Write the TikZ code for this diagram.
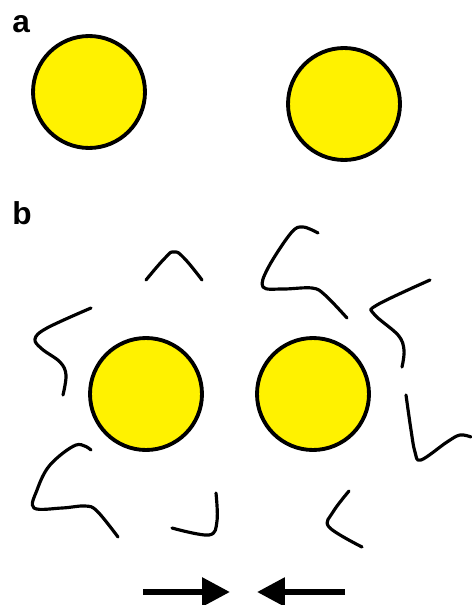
\documentclass[tikz,border=0pt]{standalone}
\usepackage{fontspec}
\setmainfont{Liberation Sans}
\usepackage{tikz}
\usetikzlibrary{arrows.meta, positioning}

\begin{document}
\begin{tikzpicture}[x=0.02cm, y=-0.02cm,
        particle/.style={circle, draw, fill=yellow, line width=2.2pt, minimum size=2.24cm, inner sep=0pt},
        chain/.style={line width=1.8pt, line cap=round, line join=round},
        push/.style={line width=3.4pt, -{Triangle[length=0.56cm, width=0.56cm]}},
        panel/.style={anchor=base west, inner sep=0pt, font=\fontsize{18}{20}\selectfont\bfseries}]
        \useasboundingbox (0,0) rectangle (471,605);

        % a: bare particles
        \node[panel] (la) at (12,32) {a};
        \node[particle] (a1) at (89,92) {};
        \node[particle] (a2) at (344,104) {};

        % b: particles among polymer chains
        \node[panel] (lb) at (12,224) {b};
        \node[particle] (b1) at (146,394) {};
        \node[particle] (b2) at (313,394) {};

        \draw[chain] plot[smooth, tension=0.8] coordinates {(146,280) (165,258) (174,252) (184,258) (202,280)};
        \draw[chain] plot[smooth, tension=0.6] coordinates {(318,233) (303,227) (291,233) (268,268) (263,287) (283,289) (312,288) (325,295) (347,318)};
        \draw[chain] plot[smooth, tension=0.6] coordinates {(91,308) (47,328) (35,339) (42,349) (60,362) (66,375) (63,395)};
        \draw[chain] plot[smooth, tension=0.6] coordinates {(430,280) (377,305) (374,314) (398,335) (404,350) (402,367)};
        \draw[chain] plot[smooth, tension=0.6] coordinates {(406,395) (411,430) (415,452) (421,460) (447,442) (460,435) (471,437)};
        \draw[chain] plot[smooth, tension=0.6] coordinates {(91,450) (76,445) (50,465) (37,490) (34,508) (62,508) (85,506) (97,511) (118,537)};
        \draw[chain] plot[smooth, tension=0.6] coordinates {(216,493) (217,521) (209,535) (172,528)};
        \draw[chain] plot[smooth, tension=0.6] coordinates {(349,491) (333,512) (329,527) (362,547)};

        % squeezing force
        \coordinate (pl) at (143,592);
        \coordinate (tl) at (230,592);
        \coordinate (pr) at (345,592);
        \coordinate (tr) at (257,592);
        \draw[push] (pl) -- (tl);
        \draw[push] (pr) -- (tr);
\end{tikzpicture}
\end{document}
